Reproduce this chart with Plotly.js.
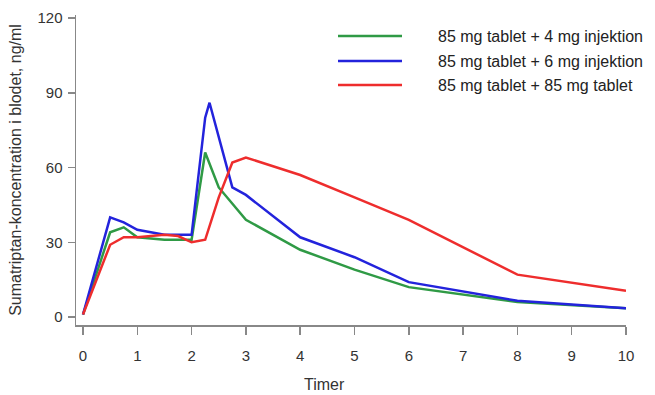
<!DOCTYPE html>
<html>
<head>
<meta charset="utf-8">
<script src="https://cdn.plot.ly/plotly-3.0.1.min.js"></script>
<style>html,body{margin:0;padding:0;background:#fff;}#chart{width:655px;height:395px;}</style>
</head>
<body>
<div id="chart"></div>
<script>
// Series names
const seriesNames = ["85 mg tablet + 4 mg injektion", "85 mg tablet + 6 mg injektion", "85 mg tablet + 85 mg tablet"];
// Time points (timer) and concentrations (ng/ml)
const greenX = [0, 0.5, 0.75, 1, 1.5, 2, 2.25, 2.5, 3, 4, 5, 6, 8, 10];
const greenY = [1, 34, 36, 32, 31, 31, 66, 52, 39, 27, 19, 12, 6, 3.5];
const blueX = [0, 0.5, 0.75, 1, 1.5, 2, 2.25, 2.33, 2.75, 3, 4, 5, 6, 8, 10];
const blueY = [1, 40, 38, 35, 33, 33, 80, 86, 52, 49, 32, 24, 14, 6.5, 3.5];
const redX = [0, 0.5, 0.75, 1, 1.5, 1.75, 2, 2.25, 2.5, 2.75, 3, 4, 5, 6, 8, 10];
const redY = [1, 29, 32, 32, 33, 32.5, 30, 31, 48, 62, 64, 57, 48, 39, 17, 10.5];
const colors = ["#2f9a45", "#2323dc", "#ee2d2d"];
const xTicks = [0,1,2,3,4,5,6,7,8,9,10];
const yTicks = [0,30,60,90,120];
const xTitle = "Timer";
const yTitle = "Sumatriptan-koncentration i blodet, ng/ml";

const xs = [greenX, blueX, redX], ys = [greenY, blueY, redY];
const traces = xs.map((x, i) => ({
  x: x, y: ys[i], type: "scatter", mode: "lines", name: seriesNames[i],
  line: {color: colors[i], width: 2.5}, showlegend: false
}));

const W = 655, H = 395, L = 76, R = 29, T = 15, B = 70;
const pw = W - L - R, ph = H - T - B;
const px = v => (v - L) / pw, py = v => (H - B - v) / ph;
const legRows = [36, 61, 85];
const FONT = "Liberation Sans, Arial, sans-serif";
const shapes = [], annotations = [];
seriesNames.forEach((n, i) => {
  shapes.push({type: "line", xref: "paper", yref: "paper", x0: px(338), x1: px(402), y0: py(legRows[i]), y1: py(legRows[i]), line: {color: colors[i], width: 2.5}});
  annotations.push({xref: "paper", yref: "paper", x: px(436), y: py(legRows[i]), xanchor: "left", yanchor: "middle", text: n, showarrow: false, font: {family: FONT, size: 16, color: "#222"}});
});
// x-axis title, placed left of centre as in the reference
annotations.push({xref: "paper", yref: "paper", x: px(324), y: py(384), xanchor: "center", yanchor: "middle", text: xTitle, showarrow: false, font: {family: FONT, size: 16, color: "#333"}});

const layout = {
  width: W, height: H,
  margin: {l: L, r: R, t: T, b: B},
  paper_bgcolor: "#fff", plot_bgcolor: "#fff",
  font: {family: FONT, color: "#333"},
  xaxis: {
    range: [-0.129, 10.0], tickvals: xTicks, ticktext: xTicks.map(String),
    showgrid: false, zeroline: false, showline: true, linecolor: "#888", linewidth: 1.5,
    ticks: "outside", ticklen: 8, tickcolor: "#888", tickwidth: 1.5,
    tickfont: {size: 15, color: "#333"}, ticklabelstandoff: 8
  },
  yaxis: {
    range: [-3.2, 121.2], tickvals: yTicks, ticktext: yTicks.map(String),
    showgrid: false, zeroline: false, showline: true, linecolor: "#888", linewidth: 1.5,
    ticks: "outside", ticklen: 7, tickcolor: "#888", tickwidth: 1.5,
    tickfont: {size: 15, color: "#333"}, ticklabelstandoff: 2,
    title: {text: yTitle, font: {size: 16, color: "#333"}, standoff: 12}
  },
  shapes: shapes, annotations: annotations
};
Plotly.newPlot("chart", traces, layout, {displayModeBar: false, staticPlot: true});
</script>
</body>
</html>
